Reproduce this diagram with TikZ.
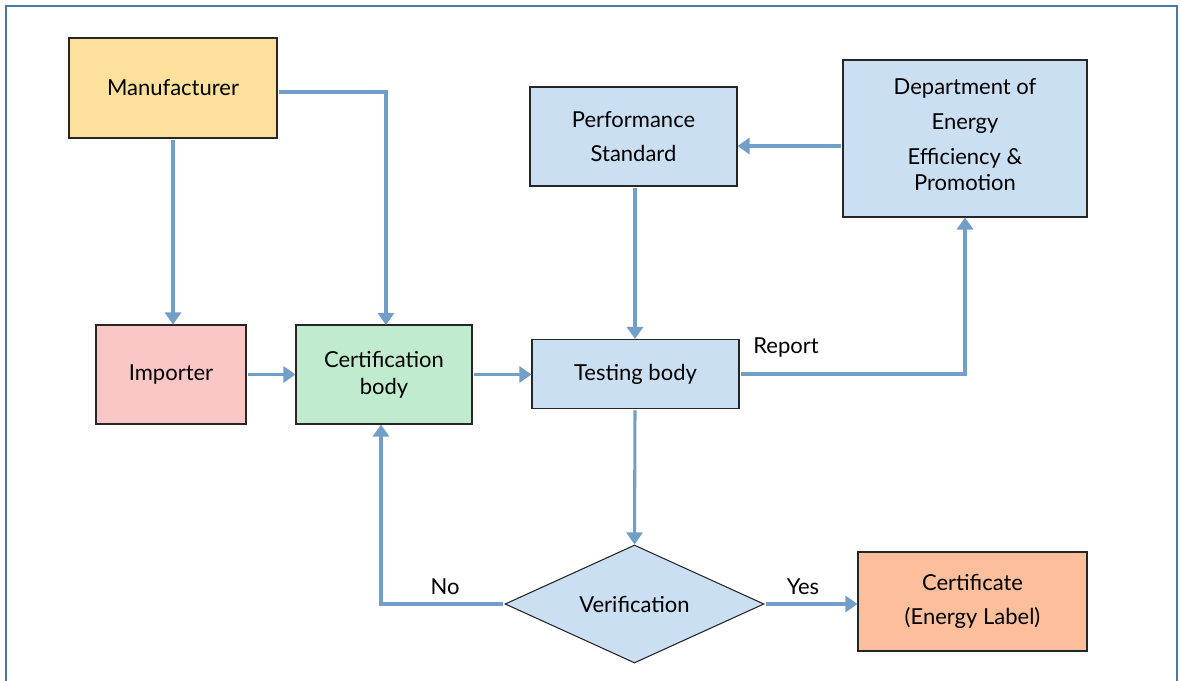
\documentclass[tikz,border=0pt]{standalone}
\usepackage{fontspec}
\setmainfont{Lato}
\usetikzlibrary{arrows.meta,shapes.geometric}
\definecolor{frame}{HTML}{4A78A8}
\definecolor{arr}{HTML}{729FC9}
\definecolor{cyellow}{HTML}{FDE09B}
\definecolor{cpink}{HTML}{FBC6C6}
\definecolor{cgreen}{HTML}{C0EBCF}
\definecolor{cblue}{HTML}{CADFF2}
\definecolor{corange}{HTML}{FDBE9B}
\tikzset{
  box/.style={draw=black!85, line width=0.8pt, align=center, inner sep=0pt, font=\fontsize{16.5}{20}\selectfont},
  flow/.style={draw=arr, line width=2.3pt, -{Triangle[width=12pt,length=9pt]}, shorten <=1pt},
  lbl/.style={font=\fontsize{16.5}{20}\selectfont, inner sep=0pt}
}
\begin{document}
\begin{tikzpicture}[x=0.75pt,y=-0.75pt]
\useasboundingbox (0,0) rectangle (1181,681);
\fill[white] (0,0) rectangle (1181,681);
\draw[frame, line width=2pt] (6,681) -- (6,6) -- (1177,6) -- (1177,681);
% nodes
\node[box, fill=cyellow, minimum width=208*0.75pt, minimum height=100*0.75pt] (man) at (173,88) {Manufacturer};
\node[box, fill=cpink, minimum width=150*0.75pt, minimum height=99*0.75pt] (imp) at (171,374.5) {Importer};
\node[box, fill=cgreen, minimum width=176*0.75pt, minimum height=99*0.75pt] (cert) at (384,374.5) {Certification\\body};
\node[box, fill=cblue, minimum width=207*0.75pt, minimum height=69*0.75pt] (test) at (635.5,374) {Testing body};
\node[box, fill=cblue, minimum width=207*0.75pt, minimum height=99*0.75pt] (perf) at (633.5,136.5) {Performance\\[6pt]Standard};
\node[box, fill=cblue, minimum width=244*0.75pt, minimum height=157*0.75pt] (dept) at (965,138.5) {};
\node[align=center, inner sep=0pt, font=\fontsize{16.5}{20}\selectfont] (deptt) at (965,135) {Department of\\[6pt]Energy\\[6pt]Efficiency \&\\Promotion};
\node[box, fill=cblue, diamond, aspect=2.2, minimum width=259*0.75pt, minimum height=118*0.75pt] (ver) at (634.5,604) {Verification};
\node[box, fill=corange, minimum width=229*0.75pt, minimum height=99*0.75pt] (certif) at (972.5,601.5) {Certificate\\[6pt](Energy Label)};
% connectors
\draw[flow] (man.south) -- (imp.north -| man.south);
\draw[flow] (man.east |- 0,92) -| (386,325);
\draw[flow] (imp.east) -- (cert.west);
\draw[flow] (cert.east) -- (test.west |- cert.east);
\draw[flow] (perf.south -| 635,0) -- (test.north -| 635,0);
\draw[flow] (dept.west |- 0,146) -- (perf.east |- 0,146);
\draw[flow] (test.east |- 0,374) -| (dept.south);
\draw[flow] (test.south -| 635,0) -- (ver.north);
\draw[flow] (ver.west) -| (cert.south -| 381,0);
\draw[flow] (ver.east) -- (certif.west |- ver.east);
% labels
\node[lbl] (rep) at (786,348) {Report};
\node[lbl] (no) at (445,587) {No};
\node[lbl] (yes) at (803,587) {Yes};
\end{tikzpicture}
\end{document}
